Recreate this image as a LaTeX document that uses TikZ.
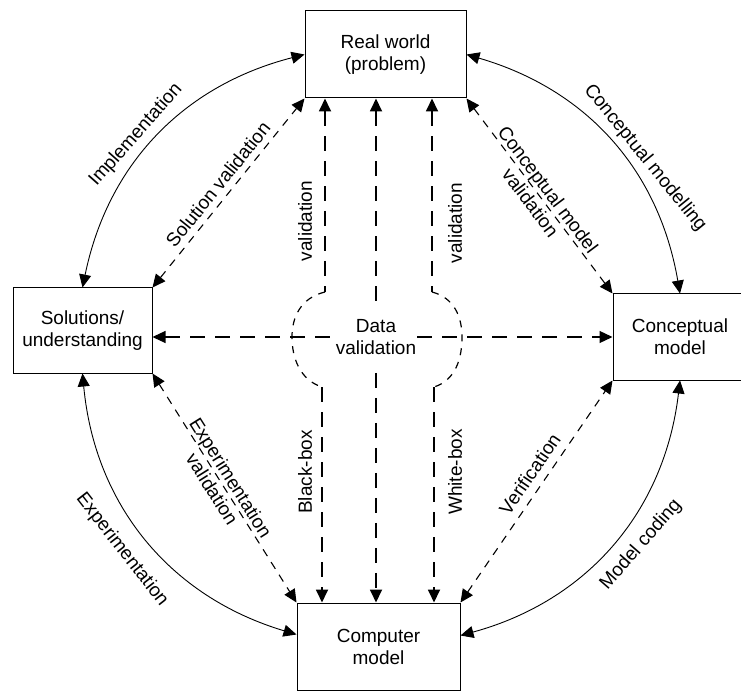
\documentclass[tikz,border=0pt]{standalone}
\usepackage{fontspec}
\setmainfont{Liberation Sans}
\usetikzlibrary{arrows.meta,calc}
\begin{document}
\begin{tikzpicture}[x=1pt,y=-1pt,
  myTri/.tip={Triangle[length=13pt,width=12pt]},
  box/.style={draw, line width=1pt, inner sep=0pt, align=center, font=\fontsize{19}{22}\selectfont},
  lbl/.style={font=\fontsize{19}{22}\selectfont, align=center, inner sep=2pt},
  arcline/.style={line width=0.9pt, myTri-myTri},
  dline/.style={line width=1.1pt, dash pattern=on 8pt off 7pt, myTri-myTri},
  hline/.style={line width=1.2pt, dash pattern=on 15pt off 10pt},
  vline/.style={line width=1.8pt, dash pattern=on 15pt off 10pt},
  bulge/.style={line width=1.2pt, dash pattern=on 7pt off 7pt},
  ]
\useasboundingbox (0,0) rectangle (741,692);

% boxes
\node[box, minimum width=161pt, minimum height=87pt] (rw) at (385.5,54.5) {Real world\\(problem)};
\node[box, minimum width=139pt, minimum height=85pt] (sol) at (82.5,330.5) {Solutions/\\understanding};
\node[box, minimum width=134pt, minimum height=86pt] (conc) at (680,337) {Conceptual\\model};
\node[box, minimum width=163pt, minimum height=87pt] (comp) at (378.5,646.5) {Computer\\model};

% outer arcs
\draw[arcline] (rw.west) to[bend right=32] (sol.north);
\draw[arcline] (rw.east) to[bend left=32] (conc.north);
\draw[arcline] (conc.south) to[bend left=34] ($(comp.east)+(0,-11)$);
\draw[arcline] (sol.south) to[bend right=34] ($(comp.west)+(0,-12)$);

% arc labels
\node[lbl, rotate=48.5] (limp) at (136,135) {Implementation};
\node[lbl, rotate=-51] (lcm) at (645,158) {Conceptual modelling};
\node[lbl, rotate=-52] (lexp) at (122,550) {Experimentation};
\node[lbl, rotate=49] (lmc) at (641,545) {Model coding};

% dashed diagonals
\draw[dline] (sol.north east) -- node[lbl, sloped, above=4pt, pos=0.5] (lsv) {Solution validation} (rw.south west);
\draw[dline] (rw.south east) -- node[lbl, sloped, pos=0.5] (lcmv) {Conceptual model\\validation} (conc.north west);
\draw[dline] (comp.north east) -- node[lbl, sloped, above=6pt, pos=0.54] (lver) {Verification} (conc.south west);
\draw[dline] (sol.south east) -- node[lbl, sloped, pos=0.48] (lev) {Experimentation\\validation} (comp.north west);

% data validation
\node[lbl, inner xsep=1pt, inner ysep=18pt] (dv) at (376,337) {Data\\validation};
\draw[hline, myTri-] (sol.east |- dv) -- (dv.west);
\draw[hline, -myTri] (dv.east) -- (conc.west);
\draw[vline, myTri-] (rw.south -| dv) -- (dv.north);
\draw[vline, -myTri] (dv.south) -- (comp.north -| dv);

% left vertical with bulge
\coordinate (L1) at (325,292);
\coordinate (L2) at (322,387);
\draw[vline, myTri-] (rw.south -| L1) -- (L1);
\draw[bulge] (L1) .. controls (300,298) and (292,318) .. (292,337) .. controls (292,358) and (300,380) .. (L2);
\draw[vline, -myTri] (L2) -- (comp.north -| L2);

% right vertical with bulge
\coordinate (R1) at (432,292);
\coordinate (R2) at (434,387);
\draw[vline, myTri-] (rw.south -| R1) -- (R1);
\draw[bulge] (R1) .. controls (455,298) and (462,318) .. (462,337) .. controls (462,358) and (456,380) .. (R2);
\draw[vline, -myTri] (R2) -- (comp.north -| R2);

% vertical labels
\node[lbl, rotate=90] (v1) at (305,221) {validation};
\node[lbl, rotate=90] (v2) at (455,223) {validation};
\node[lbl, rotate=90] (bb) at (305,472) {Black-box};
\node[lbl, rotate=90] (wb) at (455,472) {White-box};
\end{tikzpicture}
\end{document}
